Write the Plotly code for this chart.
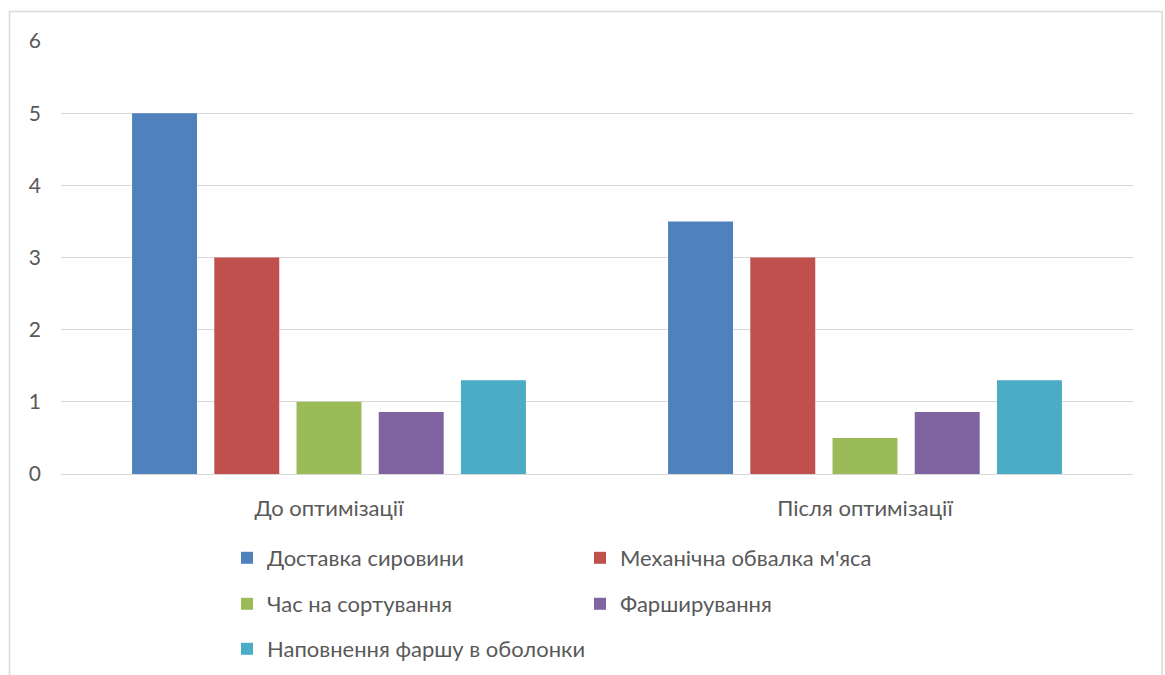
import plotly.graph_objects as go

# Categories and series
categories = ["До оптимізації", "Після оптимізації"]
series_names = [
    "Доставка сировини",
    "Механічна обвалка м'яса",
    "Час на сортування",
    "Фарширування",
    "Наповнення фаршу в оболонки",
]
delivery = [5, 3.5]
deboning = [3, 3]
sorting = [1, 0.5]
stuffing = [0.86, 0.86]
casing = [1.3, 1.3]
y_ticks = [0, 1, 2, 3, 4, 5, 6]

series_values = [delivery, deboning, sorting, stuffing, casing]
colors = ["#4F81BD", "#C0504D", "#9BBB59", "#8064A2", "#4BACC6"]
legend_ids = ["legend", "legend", "legend2", "legend2", "legend3"]

W, H = 1165, 675
L, R, T, B = 61, 1133, 41, 474  # plot area in pixels

def px_x(p):
    return (p - L) / (R - L)

def px_y(p):
    return (B - p) / (B - T)

def cy(p):
    return (H - p) / H

fig = go.Figure()
for name, vals, col, lg in zip(series_names, series_values, colors, legend_ids):
    fig.add_trace(go.Bar(
        x=categories, y=vals, name=name, legend=lg,
        marker=dict(color=col, line=dict(width=0)),
    ))

font_family = "Lato, Open Sans, sans-serif"
legend_common = dict(
    orientation="h", xanchor="left", yanchor="middle",
    xref="container", yref="container",
    entrywidth=308, entrywidthmode="pixels",
    font=dict(family=font_family, size=22, color="#595959"),
    bgcolor="rgba(0,0,0,0)", itemclick=False, itemdoubleclick=False,
)

fig.update_layout(
    width=W, height=H,
    margin=dict(l=L, r=W - R, t=T, b=H - B, pad=0, autoexpand=False),
    paper_bgcolor="white", plot_bgcolor="white",
    barmode="group", bargap=0.233, bargroupgap=0.21,
    font=dict(family=font_family, color="#595959"),
    showlegend=True,
    legend=dict(legend_common, x=227 / W, y=cy(558)),
    legend2=dict(legend_common, x=227 / W, y=cy(604)),
    legend3=dict(legend_common, x=227 / W, y=cy(649), entrywidth=420),
    xaxis=dict(
        showgrid=False, showline=False, zeroline=False, automargin=False,
        ticks="", ticklabelstandoff=19,
        tickfont=dict(family=font_family, size=22, color="#595959"),
    ),
    yaxis=dict(
        range=[0, 6], tickvals=y_ticks, showgrid=True, automargin=False,
        gridcolor="#D9D9D9", gridwidth=1,
        zeroline=True, zerolinecolor="#D9D9D9", zerolinewidth=1,
        showline=False, ticks="", ticklabelstandoff=19,
        tickfont=dict(family=font_family, size=21, color="#595959"),
    ),
    shapes=[dict(
        type="rect", xref="paper", yref="paper",
        x0=px_x(9.5), x1=px_x(1162), y0=px_y(700), y1=px_y(11.5),
        line=dict(color="#D9D9D9", width=1.5), fillcolor="rgba(0,0,0,0)",
        layer="below",
    )],
)

fig.write_html("out.html")
